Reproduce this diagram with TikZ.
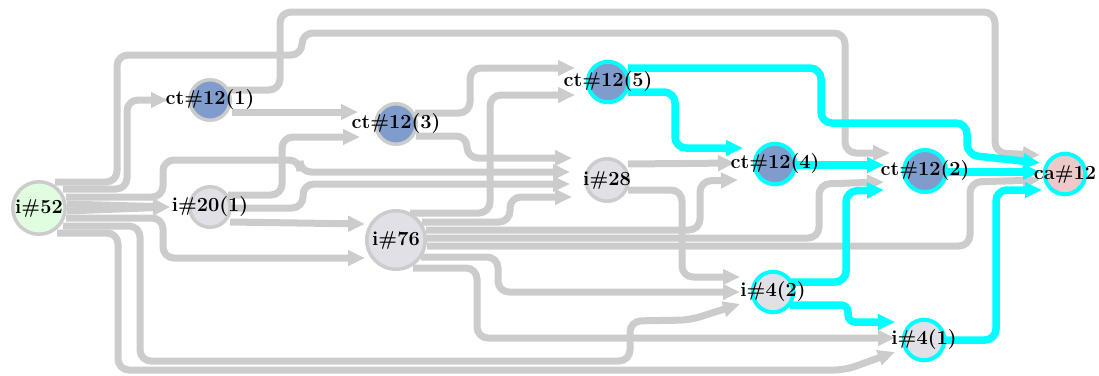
\documentclass[tikz,border=0pt]{standalone}
\usetikzlibrary{arrows.meta,calc}
\pgfdeclarelayer{wires}
\pgfsetlayers{wires,main}

\definecolor{wiregray}{HTML}{CCCCCC}
\definecolor{hilite}{HTML}{00FFFF}
\definecolor{ctblue}{HTML}{7F9CCD}
\definecolor{ingray}{HTML}{E0E0E6}
\definecolor{srcgreen}{HTML}{E0FDE0}
\definecolor{capink}{HTML}{EEC9C9}

\begin{document}
\begin{tikzpicture}[x=1pt,y=-1pt,
  vtx/.style={circle, draw=wiregray, line width=3.5pt, inner sep=0pt,
    minimum size=40.5pt,
    label={[tag]center:#1}},
  big/.style={minimum size=#1},
  hot/.style={draw=hilite, line width=4pt},
  tag/.style={font=\fontsize{20}{23}\selectfont\bfseries, inner sep=0pt, text=black},
  link/.style={draw=wiregray, line width=7pt, rounded corners=11pt,
    -{Triangle[length=17pt,width=15pt]}},
  hotlink/.style={link, draw=hilite, line width=7.5pt},
]
\useasboundingbox (0,0) rectangle (1099,375);

% vertices
\node[vtx={i\#52},    fill=srcgreen, big=52.5pt] (i52)  at (39,208)  {};
\node[vtx={ct\#12(1)}, fill=ctblue]               (ct1)  at (210,100)  {};
\node[vtx={i\#20(1)},  fill=ingray]               (i20)  at (210,207)  {};
\node[vtx={ct\#12(3)}, fill=ctblue]               (ct3)  at (396,124)  {};
\node[vtx={i\#76},     fill=ingray, big=58.5pt]   (i76)  at (396,240)  {};
\node[vtx={ct\#12(5)}, fill=ctblue, hot]          (ct5)  at (608,82)   {};
\node[vtx={i\#28},     fill=ingray, big=42.5pt]   (i28)  at (607,180)  {};
\node[vtx={ct\#12(4)}, fill=ctblue, hot]          (ct4)  at (775,164)  {};
\node[vtx={ct\#12(2)}, fill=ctblue, hot, big=42pt] (ct2) at (925,171)  {};
\node[vtx={ca\#12},    fill=capink, hot]          (ca12) at (1065,174) {};
\node[vtx={i\#4(2)},   fill=ingray, hot]          (i42)  at (773,292)  {};
\node[vtx={i\#4(1)},   fill=ingray, hot]          (i41)  at (924,340)  {};

\begin{pgfonlayer}{wires}
% grey dependencies
\draw[link] ($(i52)+(16,-26)$) -- (117,182) -- (117,55) -- (302,55) -- (302,33)
  -- (845,33) -- (845,153) -- ($(ct2)+(-35,-18)$);
\draw[link] ($(i52)+(24,-19)$) -- (127,189) -- (127,100) -- ($(ct1)+(-42,0)$);
\draw[link] ($(i52)+(27,-11)$) -- (163,197) -- (163,160) -- (300,160) -- (300,172)
  -- ($(i28)+(-37,-8)$);
\draw[link] ($(i52)+(28,-4)$) -- ($(i20)+(-40,0)$);
\draw[link] ($(i52)+(28,3)$) -- ($(i20)+(-40,0)$);
\draw[link] ($(i52)+(27,10)$) -- (163,218) -- (163,258) -- ($(i76)+(-31,18)$);
\draw[link] ($(i52)+(24,18)$) -- (140,226) -- (140,361) -- (630,361) -- (630,321)
  -- (690,320) -- ($(i42)+(-33,12)$);
\draw[link] ($(i52)+(18,25)$) -- (118,233) -- (118,370) -- (845,370)
  -- ($(i41)+(-29,12)$);

\draw[link] ($(ct1)+(22,12)$) -- ($(ct3)+(-38,-12)$);
\draw[link] ($(ct1)+(18,-10)$) -- (280,90) -- (280,12) -- (995,12) -- (995,153)
  -- ($(ca12)+(-25,-19)$);

\draw[link] ($(i20)+(18,-12)$) -- (282,195) -- (282,137) -- ($(ct3)+(-36,13)$);
\draw[link] ($(i20)+(22,1)$) -- (303,208) -- (303,184) -- ($(i28)+(-37,4)$);
\draw[link] ($(i20)+(20,15)$) -- ($(i76)+(-31,-16)$);

\draw[link] ($(ct3)+(19,-11)$) -- (470,113) -- (470,68) -- ($(ct5)+(-33,-14)$);
\draw[link] ($(ct3)+(20,12)$) -- (467,136) -- (467,158) -- ($(i28)+(-35,-22)$);

\draw[link] ($(i76)+(14,-27)$) -- (490,213) -- (490,95) -- ($(ct5)+(-33,13)$);
\draw[link] ($(i76)+(26,-18)$) -- (510,222) -- (510,197) -- ($(i28)+(-35,17)$);
\draw[link] ($(i76)+(30,-10)$) -- (700,230) -- (700,181) -- ($(ct4)+(-37,16)$);
\draw[link] ($(i76)+(31,-2)$) -- (819,238) -- (819,184) -- ($(ct2)+(-41,11)$);
\draw[link] ($(i76)+(31,6)$) -- (970,246) -- (970,182) -- ($(ca12)+(-25,6)$);
\draw[link] ($(i76)+(25,17)$) -- (498,257) -- (498,292) -- ($(i42)+(-33,0)$);
\draw[link] ($(i76)+(17,28)$) -- (477,268) -- (477,338) -- ($(i41)+(-29,-2)$);

\draw[link] ($(i28)+(21,-16)$) -- ($(ct4)+(-40,-1)$);
\draw[link] ($(i28)+(21,10)$) -- (682,190) -- (682,277) -- ($(i42)+(-33,-15)$);

% highlighted path
\draw[hotlink] ($(ct5)+(20,-14)$) -- (821,68) -- (821,123) -- (967,123) -- (967,155)
  -- ($(ca12)+(-25,-11)$);
\draw[hotlink] ($(ct5)+(20,10)$) -- (675,92) -- (675,148) -- ($(ct4)+(-32,-16)$);
\draw[hotlink] ($(ct4)+(22,1)$) -- ($(ct2)+(-41,-6)$);
\draw[hotlink] ($(ct2)+(23,1)$) -- ($(ca12)+(-25,-2)$);
\draw[hotlink] ($(i42)+(17,-10)$) -- (846,282) -- (846,191) -- ($(ct2)+(-41,19)$);
\draw[hotlink, rounded corners=7pt] ($(i42)+(17,13)$) -- (848,305) -- (848,322)
  -- ($(i41)+(-29,-18)$);
\draw[hotlink] ($(i41)+(22,0)$) -- (996,340) -- (996,190) -- ($(ca12)+(-23,16)$);
\end{pgfonlayer}
\end{tikzpicture}
\end{document}
